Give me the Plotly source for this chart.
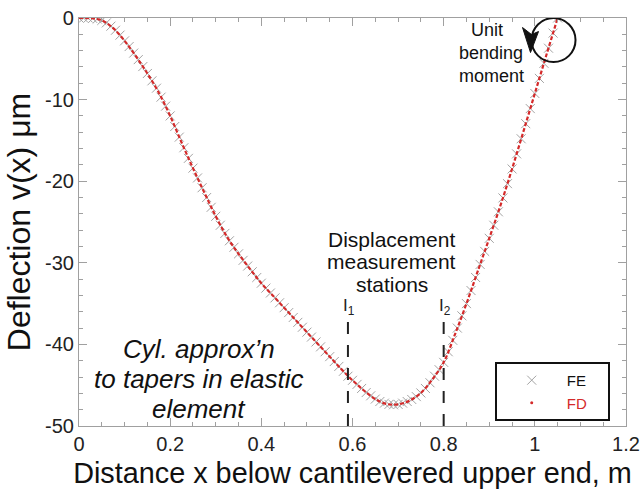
import plotly.graph_objects as go

# Finite-element nodal deflections along the elastic element (x in m, v in micrometres)
x_fe = [round(0.01 * i, 2) for i in range(106)]
v_fe = [
    0.0, 0.0, 0.0, -0.05, -0.12, -0.3, -0.6, -1.0, -1.5, -2.1,
    -2.8, -3.5, -4.3, -5.1, -5.95, -6.8, -7.7, -8.6, -9.7, -10.8,
    -12.0, -13.3, -14.6, -15.9, -17.2, -18.4, -19.6, -20.8, -22.0, -23.2,
    -24.3, -25.4, -26.4, -27.3, -28.1, -28.9, -29.7, -30.4, -31.1, -31.8,
    -32.5, -33.1, -33.7, -34.3, -34.9, -35.5, -36.1, -36.7, -37.3, -37.9,
    -38.5, -39.1, -39.7, -40.3, -40.9, -41.5, -42.1, -42.7, -43.3, -43.9,
    -44.4, -44.9, -45.4, -45.9, -46.3, -46.7, -47.0, -47.2, -47.35, -47.4,
    -47.35, -47.2, -47.0, -46.75, -46.4, -45.95, -45.4, -44.7, -43.9, -43.1,
    -42.2, -40.9, -39.5, -38.0, -36.5, -35.0, -33.4, -31.8, -30.2, -28.6,
    -27.0, -25.4, -23.75, -22.05, -20.3, -18.5, -16.65, -14.8, -12.95, -11.1,
    -9.25, -7.4, -5.55, -3.7, -1.85, 0.0,
]

# Finite-difference solution
x_fd = [round(0.025 * i, 3) for i in range(43)]
v_fd = [
    0.0, -0.02, -0.3, -1.25, -2.8, -4.7, -6.8, -9.15, -12.0, -15.25,
    -18.4, -21.4, -24.3, -26.85, -28.9, -30.75, -32.5, -34.0, -35.5, -37.0,
    -38.5, -40.0, -41.5, -43.0, -44.4, -45.65, -46.7, -47.3, -47.35, -46.9,
    -45.95, -44.3, -42.2, -38.75, -35.0, -31.0, -27.0, -22.9, -18.5, -13.9,
    -9.25, -4.6, 0.0,
]

# Displacement measurement stations
station_x = [0.59, 0.8]
station_labels = ["I<sub>1</sub>", "I<sub>2</sub>"]

x_ticks = [0, 0.2, 0.4, 0.6, 0.8, 1.0, 1.2]
x_ticktext = ["0", "0.2", "0.4", "0.6", "0.8", "1", "1.2"]
y_ticks = [0, -10, -20, -30, -40, -50]
y_ticktext = ["0", "-10", "-20", "-30", "-40", "-50"]

FONT = "Liberation Sans, Arial, Helvetica, sans-serif"
RED = "#d42a2a"
GREY = "#a3a3a3"

fig = go.Figure()

fig.add_trace(go.Scatter(
    x=x_fe, y=v_fe, mode="markers", name="FE\u00a0\u00a0\u00a0\u00a0",
    marker=dict(symbol="x-thin", size=9, color=GREY,
                line=dict(color=GREY, width=1)),
))
fig.add_trace(go.Scatter(
    x=x_fd, y=v_fd, mode="lines", name="FD", showlegend=False,
    line=dict(color=RED, width=2.2, dash="4px,2px", shape="spline"),
))
# legend entry for the FD points
fig.add_trace(go.Scatter(
    x=[None], y=[None], mode="markers",
    name="<span style='color:%s'>FD</span>" % RED,
    marker=dict(symbol="circle", size=3, color=RED),
))

# station dashed lines and labels
for sx, lab in zip(station_x, station_labels):
    fig.add_shape(type="line", xref="x", yref="y", x0=sx, x1=sx, y0=-50, y1=-36.5,
                  line=dict(color="#222222", width=2, dash="12px,11px"))
    fig.add_annotation(x=sx, y=-35.4, xref="x", yref="y", text=lab, showarrow=False,
                       xanchor="left", xshift=-7, font=dict(family=FONT, size=17, color="#222"))

annotations = [
    ("Displacement", 0.686, -27.2, 21, False),
    ("measurement", 0.686, -29.9, 21, False),
    ("stations", 0.686, -32.6, 21, False),
    ("Cyl. approx\u2019n", 0.264, -40.55, 26, True),
    ("to tapers in elastic", 0.264, -44.25, 26, True),
    ("element", 0.264, -47.95, 26, True),
    ("Unit", 0.895, -1.5, 18, False),
    ("bending", 0.904, -4.3, 18, False),
    ("moment", 0.904, -7.1, 18, False),
]
for txt, ax_, ay_, fs, ital in annotations:
    fig.add_annotation(
        x=ax_, y=ay_, xref="x", yref="y", text=("<i>%s</i>" % txt) if ital else txt,
        showarrow=False, xanchor="center", yanchor="middle",
        font=dict(family=FONT, size=fs, color="#111"),
    )

# unit bending moment symbol: circle with arrowhead
fig.add_shape(type="circle", xref="x", yref="y", xsizemode="pixel", ysizemode="pixel",
              xanchor=1.041, yanchor=-2.7, x0=-22, x1=22, y0=-22, y1=22,
              line=dict(color="#111", width=2))
fig.add_shape(type="path", xref="x", yref="y", xsizemode="pixel", ysizemode="pixel",
              xanchor=1.041, yanchor=-2.7,
              path="M -31,12.5 L -23,-12.5 L -15,8.5 L -22,5.5 Z",
              fillcolor="#111", line=dict(color="#111", width=1))

axis_common = dict(
    showgrid=False, zeroline=False, showline=True, linecolor="#a0a0a0", linewidth=1.2,
    mirror="ticks", ticks="inside", ticklen=8, tickcolor="#a0a0a0", tickwidth=1.2,
    tickfont=dict(family=FONT, size=20, color="#222"), automargin=False,
)

fig.update_layout(
    width=641, height=503,
    margin=dict(l=79, r=15, t=18, b=77),
    paper_bgcolor="white", plot_bgcolor="white",
    font=dict(family=FONT, color="#222"),
    xaxis=dict(
        range=[0, 1.2], tickmode="array", tickvals=x_ticks, ticktext=x_ticktext,
        minor=dict(dtick=0.05, tick0=0, ticks="inside", ticklen=4, tickcolor="#a0a0a0"),
        title=dict(text="Distance x below cantilevered upper end, m",
                   font=dict(family=FONT, size=28.8, color="#111"), standoff=8),
        **axis_common,
    ),
    yaxis=dict(
        range=[-50, 0], tickmode="array", tickvals=y_ticks, ticktext=y_ticktext,
        minor=dict(dtick=2, tick0=0, ticks="inside", ticklen=4, tickcolor="#a0a0a0"),
        title=dict(text="Deflection v(x) \u03bcm",
                   font=dict(family=FONT, size=32, color="#111"), standoff=4),
        **axis_common,
    ),
    legend=dict(
        x=0.76, y=0.157, xanchor="left", yanchor="top",
        bordercolor="#111", borderwidth=2, bgcolor="white",
        itemwidth=60, font=dict(family=FONT, size=15, color="#111"),
        tracegroupgap=0,
    ),
)

fig.write_html("out.html")
